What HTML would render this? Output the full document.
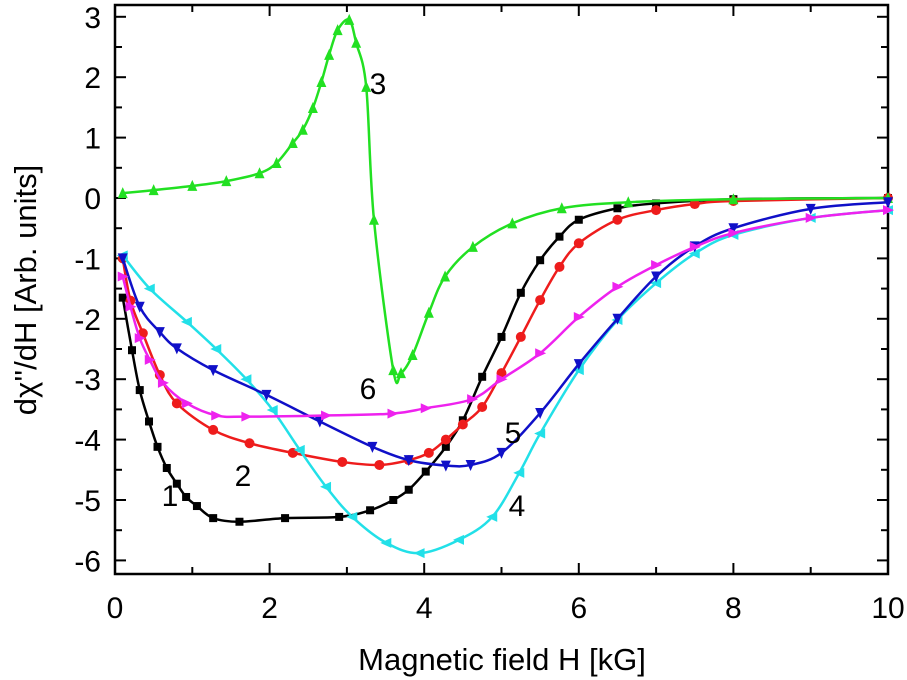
<!DOCTYPE html>
<html><head><meta charset="utf-8"><style>
body{margin:0;background:#fff}
svg{display:block;font-family:"Liberation Sans",sans-serif}
</style></head><body>
<svg id="c" width="907" height="680" viewBox="0 0 907 680"></svg>
<script>
const xTicks=[0,2,4,6,8,10];
const yTicks=[3,2,1,0,-1,-2,-3,-4,-5,-6];
const x1=[0.1,0.22,0.32,0.44,0.55,0.67,0.8,0.92,1.06,1.27,1.61,2.2,2.9,3.3,3.6,3.8,4.02,4.28,4.5,4.75,5,5.25,5.5,5.75,6,6.5,7,8,10];
const y1=[-1.65,-2.52,-3.18,-3.7,-4.12,-4.47,-4.73,-4.95,-5.1,-5.3,-5.36,-5.3,-5.28,-5.17,-5.0,-4.83,-4.53,-4.12,-3.68,-2.96,-2.3,-1.57,-1.03,-0.64,-0.36,-0.17,-0.09,-0.02,0];
const x2=[0.1,0.2,0.36,0.58,0.8,1.27,1.74,2.3,2.94,3.42,3.8,4.06,4.28,4.5,4.75,5,5.25,5.5,5.75,6,6.5,7,7.5,8,10];
const y2=[-1.0,-1.7,-2.24,-2.93,-3.4,-3.84,-4.06,-4.22,-4.37,-4.42,-4.34,-4.22,-4.0,-3.75,-3.46,-2.9,-2.3,-1.69,-1.14,-0.75,-0.36,-0.2,-0.1,-0.05,0];
const x3=[0.1,0.5,1,1.44,1.87,2.09,2.3,2.43,2.56,2.67,2.77,2.88,3.03,3.12,3.25,3.35,3.6,3.7,3.85,4.06,4.27,4.63,5.14,5.78,6.64,8,10];
const y3=[0.08,0.13,0.2,0.28,0.41,0.58,0.91,1.13,1.49,1.92,2.37,2.78,2.95,2.57,1.84,-0.36,-2.85,-2.9,-2.6,-1.9,-1.3,-0.81,-0.42,-0.17,-0.07,-0.02,0];
const x4=[0.1,0.45,0.93,1.31,1.7,2.04,2.39,2.73,3.07,3.51,3.94,4.45,4.88,5.23,5.5,6,6.5,7,7.5,8,9,10];
const y4=[-0.95,-1.5,-2.05,-2.5,-3.0,-3.51,-4.17,-4.78,-5.28,-5.71,-5.88,-5.66,-5.28,-4.55,-3.9,-2.85,-2.02,-1.41,-0.92,-0.61,-0.33,-0.2];
const x5=[0.1,0.32,0.58,0.8,1.27,1.96,2.65,3.33,3.8,4.28,4.6,5,5.5,6,6.5,7,7.5,8,9,10];
const y5=[-1.0,-1.8,-2.22,-2.49,-2.85,-3.26,-3.7,-4.12,-4.34,-4.43,-4.42,-4.22,-3.56,-2.75,-2.0,-1.3,-0.8,-0.5,-0.18,-0.07];
const x6=[0.1,0.2,0.32,0.45,0.62,0.93,1.31,1.7,2.73,3.59,4.02,4.62,5,5.5,6,6.5,7,7.5,8,9,10];
const y6=[-1.3,-1.8,-2.32,-2.68,-3.06,-3.4,-3.6,-3.62,-3.6,-3.57,-3.48,-3.33,-3.0,-2.57,-1.97,-1.47,-1.11,-0.81,-0.58,-0.33,-0.2];
const series=[
 {n:'1',x:x1,y:y1,c:'#000000',m:'sq',lx:170,ly:495},
 {n:'2',x:x2,y:y2,c:'#ee1c1c',m:'ci',lx:243,ly:475},
 {n:'3',x:x3,y:y3,c:'#22e022',m:'up',lx:378,ly:83},
 {n:'4',x:x4,y:y4,c:'#22e0e8',m:'lt',lx:517,ly:505},
 {n:'5',x:x5,y:y5,c:'#1010c8',m:'dn',lx:513,ly:432},
 {n:'6',x:x6,y:y6,c:'#ee22ee',m:'rt',lx:368,ly:388}];
const L=115,R=888,T=5,B=574;
const sx=v=>L+v*77.3, sy=v=>198-v*60.4;
const S=document.getElementById('c'),NS='http://www.w3.org/2000/svg';
function mk(t,a,p){const e=document.createElementNS(NS,t);for(const k in a)e.setAttribute(k,a[k]);(p||S).appendChild(e);return e;}
const frame=mk('rect',{x:L,y:T,width:R-L,height:B-T,fill:'none',stroke:'#000','stroke-width':2.5});


for(let v=0;v<=10;v+=1){const X=sx(v),len=v%2==0?11:7;
 mk('line',{x1:X,y1:B,x2:X,y2:B-len,stroke:'#000','stroke-width':2});
 mk('line',{x1:X,y1:T,x2:X,y2:T+len,stroke:'#000','stroke-width':2});}
for(let v=-6;v<=3;v+=0.5){const Y=sy(v),len=Number.isInteger(v)?11:7;
 mk('line',{x1:L,y1:Y,x2:L+len,y2:Y,stroke:'#000','stroke-width':2});
 mk('line',{x1:R,y1:Y,x2:R-len,y2:Y,stroke:'#000','stroke-width':2});}
xTicks.forEach(v=>{const t=mk('text',{x:sx(v),y:618,'text-anchor':'middle','font-size':30});t.textContent=v;
 
 });
yTicks.forEach(v=>{const t=mk('text',{x:101,y:sy(v)+11,'text-anchor':'end','font-size':30});t.textContent=v;
 
 });
const xt=mk('text',{x:502,y:670,'text-anchor':'middle','font-size':31});xt.textContent='Magnetic field H [kG]';


const yt=mk('text',{x:0,y:0,'text-anchor':'middle','font-size':31,transform:'translate(36,290) rotate(-90)'});yt.textContent='d\u03C7\'\'/dH [Arb. units]';


function path(xs,ys){const P=xs.map((x,i)=>[sx(x),sy(ys[i])]);let d='M'+P[0][0]+','+P[0][1];
 for(let i=0;i<P.length-1;i++){const p0=P[Math.max(i-1,0)],p1=P[i],p2=P[i+1],p3=P[Math.min(i+2,P.length-1)];
  d+=' C'+(p1[0]+(p2[0]-p0[0])/6)+','+(p1[1]+(p2[1]-p0[1])/6)+' '+(p2[0]-(p3[0]-p1[0])/6)+','+(p2[1]-(p3[1]-p1[1])/6)+' '+p2[0]+','+p2[1];}
 return d;}
function marker(g,m,X,Y,c){const r=5;
 if(m=='sq')return mk('rect',{x:X-r+1,y:Y-r+1,width:2*r-2,height:2*r-2,fill:c},g);
 if(m=='ci')return mk('circle',{cx:X,cy:Y,r:r,fill:c},g);
 let pts;
 if(m=='up')pts=[[X,Y-r-1],[X-r,Y+r],[X+r,Y+r]];
 if(m=='dn')pts=[[X,Y+r+1],[X-r,Y-r],[X+r,Y-r]];
 if(m=='lt')pts=[[X-r-1,Y],[X+r,Y-r],[X+r,Y+r]];
 if(m=='rt')pts=[[X+r+1,Y],[X-r,Y-r],[X-r,Y+r]];
 return mk('polygon',{points:pts.map(p=>p.join(',')).join(' '),fill:c},g);}
series.forEach(s=>{
 const g=mk('g',{});
 
 
 const p=mk('path',{d:path(s.x,s.y),fill:'none',stroke:s.c,'stroke-width':2.5},g);
 
 
 s.x.forEach((x,i)=>{const e=marker(g,s.m,sx(x),sy(s.y[i]),s.c);
  
  });
 const t=mk('text',{x:s.lx,y:s.ly+11,'text-anchor':'middle','font-size':30});t.textContent=s.n;
 
 
});
</script>
</body></html>
